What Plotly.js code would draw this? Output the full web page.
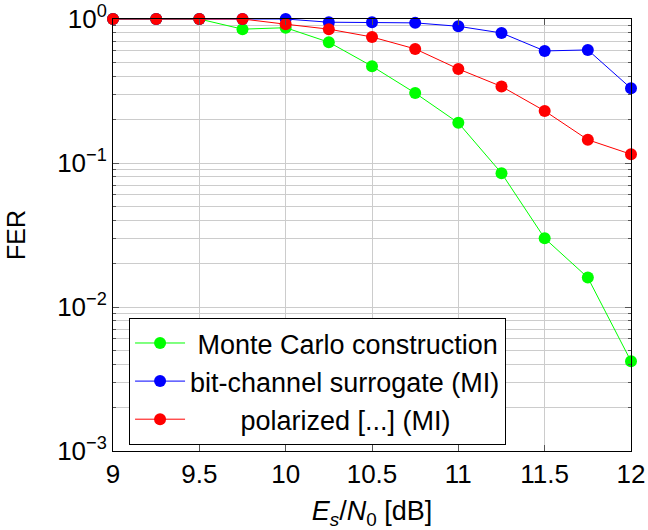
<!DOCTYPE html>
<html><head><meta charset="utf-8">
<script src="https://cdn.plot.ly/plotly-3.0.1.min.js"></script>
<style>body{margin:0;padding:0;}#plot{width:648px;height:530px;}</style>
</head><body><div id="plot"></div>
<script>
const snr = [9, 9.25, 9.5, 9.75, 10, 10.25, 10.5, 10.75, 11, 11.25, 11.5, 11.75, 12];
const ferMonteCarlo = [1.0, 1.0, 1.0, 0.85, 0.87, 0.69, 0.47, 0.306, 0.19, 0.085, 0.030, 0.016, 0.0042];
const ferSurrogate = [1.0, 1.0, 1.0, 1.0, 1.0, 0.95, 0.95, 0.94, 0.89, 0.80, 0.60, 0.61, 0.33];
const ferPolarized = [1.0, 1.0, 1.0, 1.0, 0.92, 0.85, 0.75, 0.62, 0.45, 0.34, 0.23, 0.145, 0.115];
const seriesNames = ['\u00a0Monte Carlo construction', 'bit-channel surrogate (MI)', '\u00a0\u00a0\u00a0\u00a0\u00a0\u00a0\u2009polarized [...] (MI)'];
const yTickVals = [1e-3, 1e-2, 1e-1, 1];
const yTickText = ['10<sup>\u22123</sup>', '10<sup>\u22122</sup>', '10<sup>\u22121</sup>', '10<sup>0</sup>'];
const xTickVals = [9, 9.5, 10, 10.5, 11, 11.5, 12];

const minorVals = [];
[1e-3, 1e-2, 1e-1].forEach(d => { for (let k = 2; k <= 9; k++) minorVals.push(d * k); });

function tr(y, name, color) {
  return {x: snr, y: y, name: name, type: 'scatter', mode: 'lines+markers',
    line: {color: color, width: 1}, marker: {color: color, size: 12}, cliponaxis: false};
}
const data = [
  tr(ferMonteCarlo, seriesNames[0], '#00ff00'),
  tr(ferSurrogate, seriesNames[1], '#0000ff'),
  tr(ferPolarized, seriesNames[2], '#ff0000')
];
const fam = 'Liberation Sans, Arial, sans-serif';
const layout = {
  width: 648, height: 530,
  margin: {l: 113, r: 17, t: 19, b: 79},
  paper_bgcolor: '#fff', plot_bgcolor: '#fff',
  font: {family: fam, size: 26, color: '#000'},
  showlegend: true,
  legend: {x: 0.031, y: 0.308, xanchor: 'left', yanchor: 'top',
    bordercolor: '#000', borderwidth: 1, bgcolor: '#fff',
    font: {family: fam, size: 27, color: '#000'}, itemwidth: 50, tracegroupgap: 0},
  xaxis: {range: [9, 12], tickvals: xTickVals, ticktext: xTickVals.map(String),
    showline: true, linecolor: '#000', linewidth: 1, mirror: 'ticks',
    ticks: 'inside', ticklen: 6, tickcolor: '#555',
    showgrid: true, gridcolor: '#cccccc', gridwidth: 1, zeroline: false,
    tickfont: {size: 26},
    title: {text: '<i>E</i><sub><i>s</i></sub>/<i>N</i><sub>0</sub> [dB]', font: {size: 27}, standoff: 14}},
  yaxis: {type: 'log', range: [-3, 0], tickvals: yTickVals, ticktext: yTickText,
    showline: true, linecolor: '#000', linewidth: 1, mirror: 'ticks',
    ticks: 'inside', ticklen: 6, tickcolor: '#555',
    showgrid: true, gridcolor: '#cccccc', gridwidth: 1, zeroline: false,
    minor: {tickvals: minorVals, ticks: 'inside', ticklen: 3, tickcolor: '#555', showgrid: true, gridcolor: '#cccccc', gridwidth: 1},
    tickfont: {size: 26},
    title: {text: 'FER', font: {size: 25}, standoff: 24}}
};
Plotly.newPlot('plot', data, layout, {displayModeBar: false, staticPlot: true});
</script></body></html>
